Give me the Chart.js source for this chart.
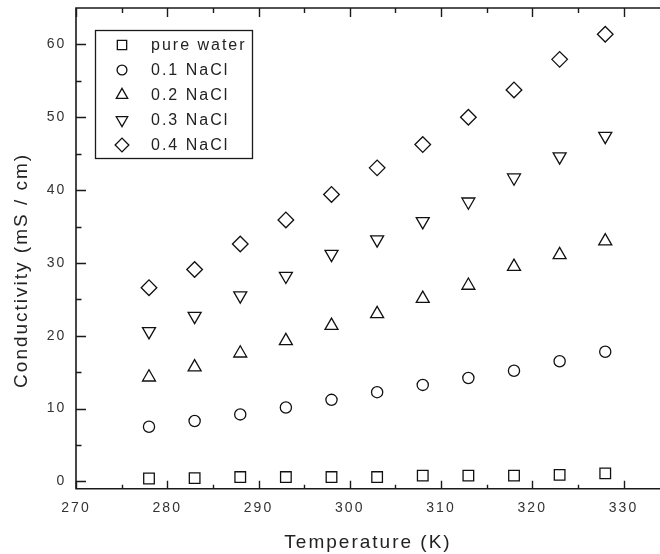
<!DOCTYPE html>
<html><head><meta charset="utf-8">
<script src="https://cdn.jsdelivr.net/npm/chart.js@4.4.1/dist/chart.umd.min.js"></script>
<style>html,body{margin:0;padding:0;background:#fff}#wrap{position:relative;width:660px;height:554px}</style>
</head><body><div id="wrap"><canvas id="c" width="660" height="554"></canvas></div>
<script>
// ---- data ----
const temperatures = [278, 283, 288, 293, 298, 303, 308, 313, 318, 323, 328];
const seriesNames = ['pure water', '0.1 NaCl', '0.2 NaCl', '0.3 NaCl', '0.4 NaCl'];
const pureWater = [0.4, 0.45, 0.6, 0.6, 0.6, 0.6, 0.8, 0.8, 0.8, 0.9, 1.1];
const nacl01 = [7.5, 8.3, 9.2, 10.15, 11.2, 12.25, 13.25, 14.2, 15.2, 16.5, 17.8];
const nacl02 = [14.3, 15.7, 17.6, 19.3, 21.4, 23.0, 25.1, 26.9, 29.5, 31.1, 33.0];
const nacl03 = [20.6, 22.7, 25.5, 28.2, 31.2, 33.2, 35.7, 38.4, 41.7, 44.6, 47.4];
const nacl04 = [26.6, 29.1, 32.6, 35.9, 39.4, 43.05, 46.25, 50.0, 53.75, 57.95, 61.4];
const xTickValues = [270, 280, 290, 300, 310, 320, 330];
const yTickValues = [0, 10, 20, 30, 40, 50, 60];
const xAxisTitle = 'Temperature (K)';
const yAxisTitle = 'Conductivity (mS / cm)';

const seriesValues = [pureWater, nacl01, nacl02, nacl03, nacl04];
const markerStyles = [
  {pointStyle: 'rect', radius: 7.5, rotation: 0},
  {pointStyle: 'circle', radius: 5.6, rotation: 0},
  {pointStyle: 'triangle', radius: 7.5, rotation: 0},
  {pointStyle: 'triangle', radius: 7.5, rotation: 180},
  {pointStyle: 'rectRot', radius: 7.8, rotation: 0}
];
const INK = '#111';
const FONT = '"Liberation Sans", Arial, sans-serif';

Chart.defaults.font.family = FONT;

const datasets = seriesNames.map((name, i) => ({
  label: name,
  data: temperatures.map((t, j) => ({x: t, y: seriesValues[i][j]})),
  pointStyle: markerStyles[i].pointStyle,
  pointRadius: markerStyles[i].radius,
  pointHoverRadius: markerStyles[i].radius,
  pointRotation: markerStyles[i].rotation,
  pointBorderWidth: 1.3,
  pointBorderColor: INK,
  pointBackgroundColor: 'rgba(0,0,0,0)',
  borderColor: INK,
  backgroundColor: 'rgba(0,0,0,0)',
  showLine: false
}));

const spacingPlugin = {
  id: 'spacing',
  beforeUpdate(chart) { chart.ctx.letterSpacing = '2px'; },
  beforeDraw(chart) { chart.ctx.letterSpacing = '2px'; }
};

const framePlugin = {
  id: 'frame',
  afterDraw(chart) {
    const {ctx, chartArea: a, scales} = chart;
    const x = scales.x, y = scales.y;
    ctx.save();
    ctx.strokeStyle = '#1a1a1a';
    ctx.lineWidth = 1.6;
    ctx.beginPath();
    ctx.moveTo(a.right, a.top); ctx.lineTo(a.left, a.top);
    ctx.lineTo(a.left, a.bottom); ctx.lineTo(a.right, a.bottom);
    ctx.stroke();
    ctx.lineWidth = 1.4;
    ctx.beginPath();
    const majX = x.ticks.map(t => t.value);
    majX.forEach(v => {
      const px = Math.round(x.getPixelForValue(v)) + 0.5;
      ctx.moveTo(px, a.bottom); ctx.lineTo(px, a.bottom - 8);
      ctx.moveTo(px, a.top); ctx.lineTo(px, a.top + 9);
      const m = v + 5;
      if (m < x.max) {
        const pm = Math.round(x.getPixelForValue(m)) + 0.5;
        ctx.moveTo(pm, a.bottom); ctx.lineTo(pm, a.bottom - 4);
        ctx.moveTo(pm, a.top); ctx.lineTo(pm, a.top + 5);
      }
    });
    const majY = y.ticks.map(t => t.value);
    majY.forEach(v => {
      const py = Math.round(y.getPixelForValue(v)) + 0.5;
      ctx.moveTo(a.left, py); ctx.lineTo(a.left + 10, py);
      const m = v + 5;
      if (m < y.max) {
        const pm = Math.round(y.getPixelForValue(m)) + 0.5;
        ctx.moveTo(a.left, pm); ctx.lineTo(a.left + 5.5, pm);
      }
    });
    ctx.stroke();

    // y axis title
    ctx.fillStyle = '#222';
    ctx.font = '19px ' + FONT;
    ctx.letterSpacing = '2px';
    ctx.textAlign = 'center';
    ctx.textBaseline = 'middle';
    ctx.translate(22, (a.top + a.bottom) / 2 + 22);
    ctx.rotate(-Math.PI / 2);
    ctx.fillText(yAxisTitle, 0, 0);
    ctx.restore();
  }
};

const legendPlugin = {
  id: 'boxLegend',
  afterDraw(chart) {
    const {ctx, chartArea: a} = chart;
    const bx = a.left + 18.5, by = a.top + 22, bw = 157, bh = 128;
    ctx.save();
    ctx.strokeStyle = '#1a1a1a';
    ctx.lineWidth = 1.3;
    ctx.strokeRect(Math.round(bx) + 0.5, Math.round(by) + 0.5, bw, bh);
    chart.data.datasets.forEach((ds, i) => {
      const cy = by + 15 + i * 25;
      ctx.strokeStyle = INK;
      ctx.fillStyle = 'rgba(0,0,0,0)';
      ctx.lineWidth = 1.3;
      Chart.helpers.drawPoint(ctx, {
        pointStyle: ds.pointStyle,
        rotation: ds.pointRotation,
        radius: ds.pointRadius * 0.88,
        borderWidth: 1.3
      }, bx + 27.5, cy);
      ctx.fillStyle = '#222';
      ctx.font = '16px ' + FONT;
      ctx.letterSpacing = '2px';
      ctx.textAlign = 'left';
      ctx.textBaseline = 'middle';
      ctx.fillText(ds.label, bx + 56.5, cy + 0.5);
    });
    ctx.restore();
  }
};

new Chart(document.getElementById('c'), {
  type: 'scatter',
  data: {datasets},
  options: {
    responsive: false,
    animation: false,
    devicePixelRatio: 1,
    layout: {autoPadding: false, padding: {left: 0, right: 0, top: 8, bottom: 0}},
    plugins: {legend: {display: false}, tooltip: {enabled: false}},
    scales: {
      x: {
        type: 'linear', min: 270, max: 334,
        grid: {display: false, drawTicks: false},
        border: {display: false},
        afterBuildTicks: s => { s.ticks = xTickValues.map(v => ({value: v})); },
        afterFit: s => { s.height = 65.3; s.paddingLeft = 0; s.paddingRight = 0; s.paddingTop = 0; s.paddingBottom = 0; },
        ticks: {stepSize: 10, includeBounds: false, maxRotation: 0, padding: 10.6, color: '#333', font: {size: 14}},
        title: {display: true, text: xAxisTitle, color: '#222', font: {size: 19}, padding: {top: 14, bottom: 0}}
      },
      y: {
        type: 'linear', min: -1, max: 65,
        grid: {display: false, drawTicks: false},
        border: {display: false},
        afterBuildTicks: s => { s.ticks = yTickValues.map(v => ({value: v})); },
        afterFit: s => { s.width = 76; s.paddingLeft = 0; s.paddingRight = 0; s.paddingTop = 0; s.paddingBottom = 0; },
        ticks: {stepSize: 10, includeBounds: false, padding: 9.7, color: '#333', font: {size: 14}},
        title: {display: false}
      }
    }
  },
  plugins: [spacingPlugin, framePlugin, legendPlugin]
});
</script></body></html>
